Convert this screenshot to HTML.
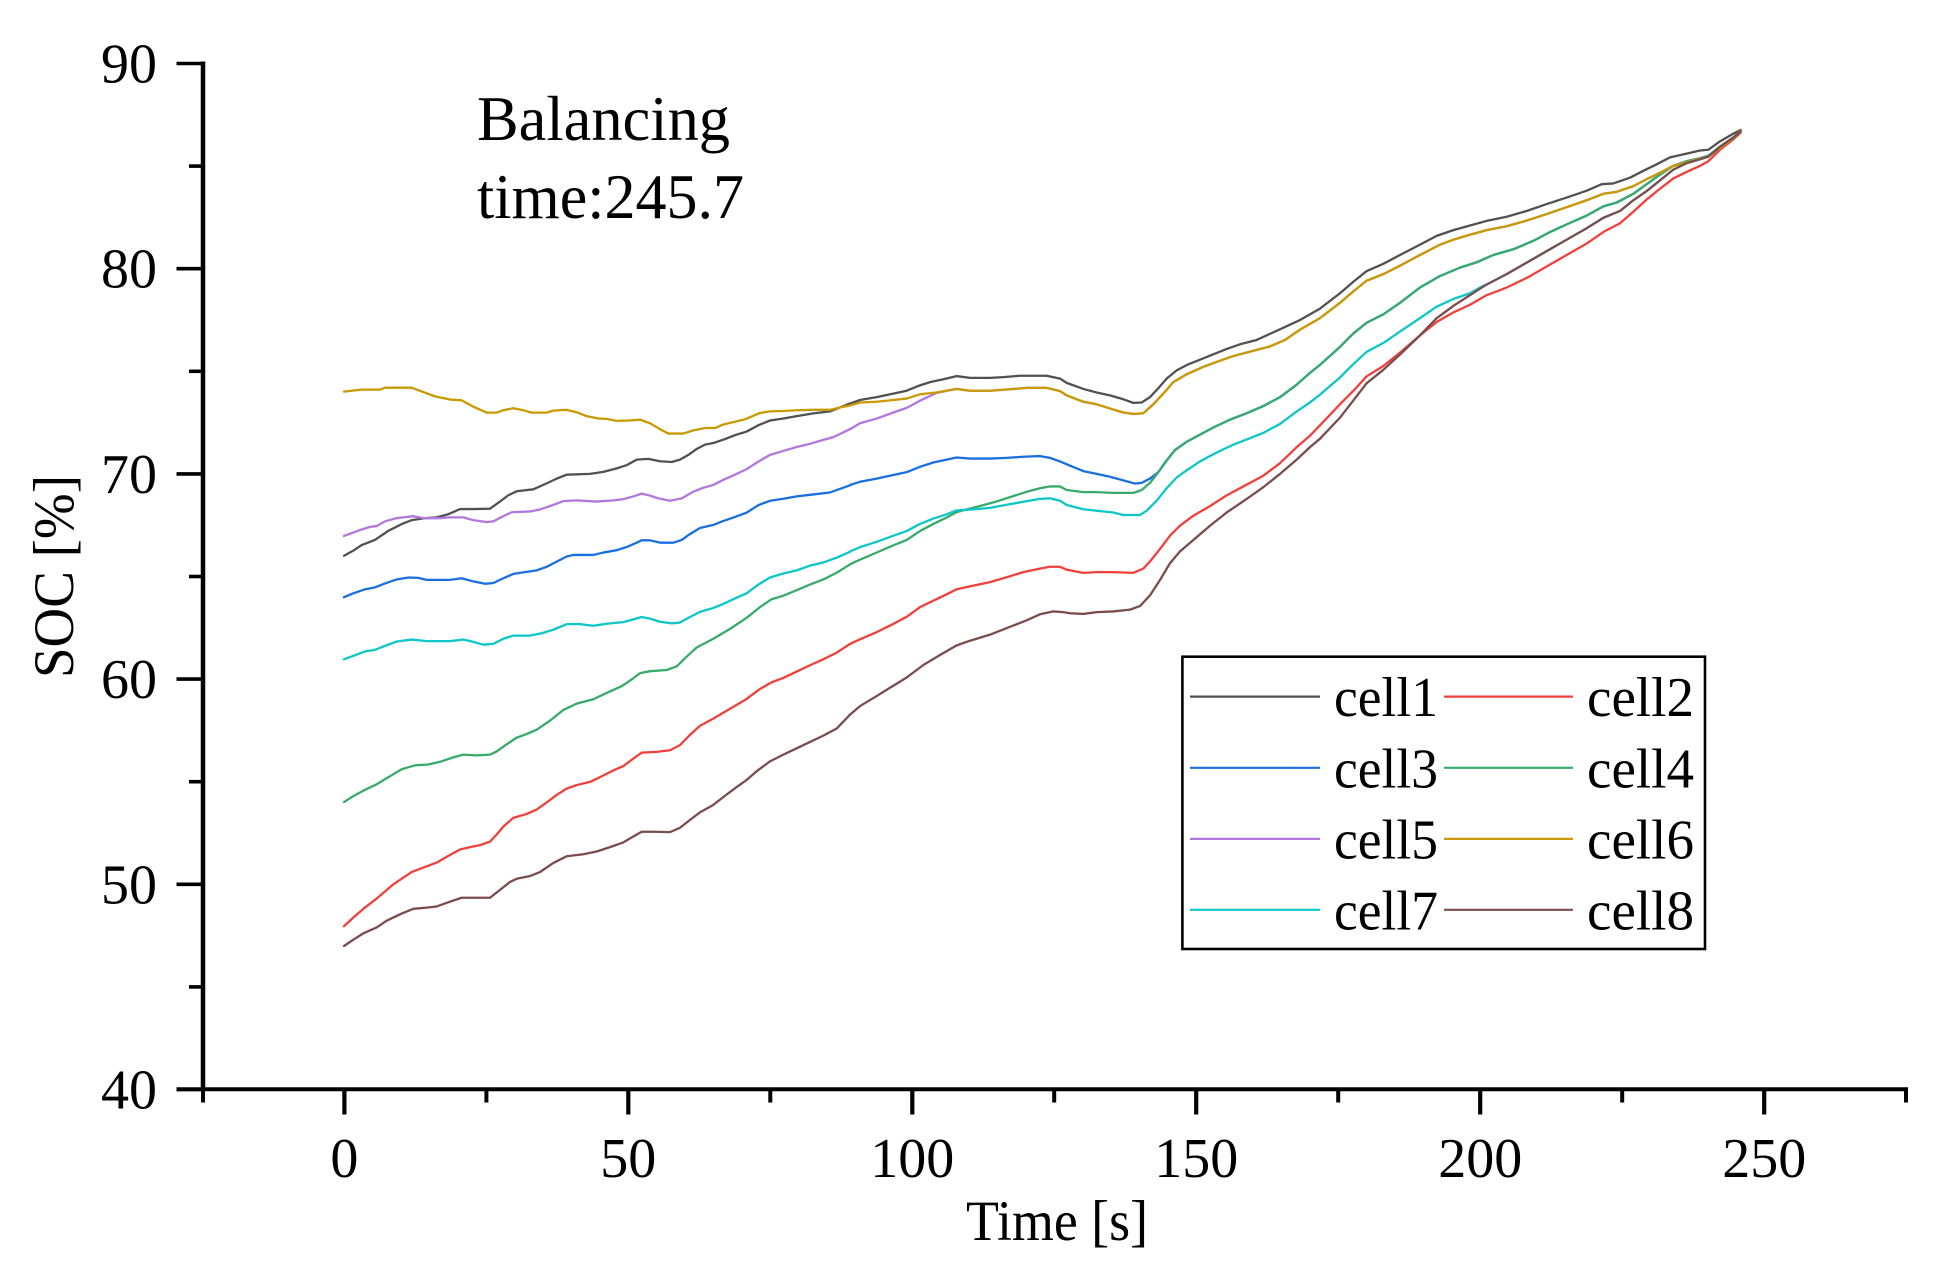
<!DOCTYPE html>
<html><head><meta charset="utf-8"><style>
html,body{margin:0;padding:0;background:#fff;}
svg{display:block;}
text{font-family:"Liberation Serif","Times New Roman",serif;fill:#000;}
</style></head><body>
<svg width="1941" height="1279" viewBox="0 0 1941 1279" xmlns="http://www.w3.org/2000/svg">
<rect width="1941" height="1279" fill="#fff"/>

<!-- Axes -->
<g stroke="#000" stroke-linecap="butt">
  <line x1="203" y1="61.5" x2="203" y2="1091" stroke-width="4.5"/>
  <line x1="176.5" y1="1089.3" x2="1908" y2="1089.3" stroke-width="4"/>
  <g stroke-width="3.6">
    <line x1="176.5" y1="63.5" x2="203" y2="63.5"/>
    <line x1="176.5" y1="268.7" x2="203" y2="268.7"/>
    <line x1="176.5" y1="473.9" x2="203" y2="473.9"/>
    <line x1="176.5" y1="679.1" x2="203" y2="679.1"/>
    <line x1="176.5" y1="884.3" x2="203" y2="884.3"/>
    <line x1="176.5" y1="1089.5" x2="203" y2="1089.5"/>
  </g>
  <g stroke-width="3.6">
    <line x1="189" y1="166.1" x2="203" y2="166.1"/>
    <line x1="189" y1="371.3" x2="203" y2="371.3"/>
    <line x1="189" y1="576.5" x2="203" y2="576.5"/>
    <line x1="189" y1="781.7" x2="203" y2="781.7"/>
    <line x1="189" y1="986.9" x2="203" y2="986.9"/>
  </g>
  <g stroke-width="4.2">
    <line x1="344.4" y1="1089" x2="344.4" y2="1114.5"/>
    <line x1="628.3" y1="1089" x2="628.3" y2="1114.5"/>
    <line x1="912.3" y1="1089" x2="912.3" y2="1114.5"/>
    <line x1="1196.2" y1="1089" x2="1196.2" y2="1114.5"/>
    <line x1="1480.2" y1="1089" x2="1480.2" y2="1114.5"/>
    <line x1="1764.2" y1="1089" x2="1764.2" y2="1114.5"/>
  </g>
  <g stroke-width="4">
    <line x1="203" y1="1089" x2="203" y2="1102.5"/>
    <line x1="486.4" y1="1089" x2="486.4" y2="1102.5"/>
    <line x1="770.3" y1="1089" x2="770.3" y2="1102.5"/>
    <line x1="1054.2" y1="1089" x2="1054.2" y2="1102.5"/>
    <line x1="1338.2" y1="1089" x2="1338.2" y2="1102.5"/>
    <line x1="1622.2" y1="1089" x2="1622.2" y2="1102.5"/>
    <line x1="1906" y1="1089" x2="1906" y2="1102.5"/>
  </g>
</g>

<!-- Tick labels -->
<g font-size="56" text-anchor="end">
  <text x="157" y="82.5">90</text>
  <text x="157" y="287.7">80</text>
  <text x="157" y="492.9">70</text>
  <text x="157" y="698.1">60</text>
  <text x="157" y="903.3">50</text>
  <text x="157" y="1108.5">40</text>
</g>
<g font-size="56" text-anchor="middle">
  <text x="344.4" y="1177">0</text>
  <text x="628.3" y="1177">50</text>
  <text x="912.3" y="1177">100</text>
  <text x="1196.2" y="1177">150</text>
  <text x="1480.2" y="1177">200</text>
  <text x="1764.2" y="1177">250</text>
</g>

<!-- Axis titles -->
<text x="966" y="1240" font-size="57" textLength="182" lengthAdjust="spacingAndGlyphs">Time [s]</text>
<text transform="translate(73,576.5) rotate(-90)" x="0" y="0" font-size="57" text-anchor="middle" textLength="203" lengthAdjust="spacingAndGlyphs">SOC [%]</text>

<!-- Annotation -->
<text x="477" y="140" font-size="63" textLength="253" lengthAdjust="spacingAndGlyphs">Balancing</text>
<text x="477" y="218" font-size="63" textLength="267" lengthAdjust="spacingAndGlyphs">time:245.7</text>

<!-- Data -->
<g fill="none" stroke-width="2.3" stroke-linejoin="round" stroke-linecap="round">
<g transform="translate(330,360) scale(0.333333,0.39541)">
  <polyline vector-effect="non-scaling-stroke" stroke="#515151" points="42,495 70,482 95,468 135,455 175,432 215,415 245,405 285,400 320,398 355,390 390,377 430,377 480,376 510,358 535,342 560,332 610,327 650,312 680,300 710,290 780,288 820,283 860,274 890,266 920,252 955,250 990,256 1025,258 1050,252 1075,240 1100,225 1125,214 1150,210 1185,200 1215,190 1250,181 1285,165 1320,153 1360,148 1400,142 1450,135 1500,130 1530,120 1560,110"/>
  <polyline vector-effect="non-scaling-stroke" stroke="#f0403c" points="42,1432 70,1410 100,1388 140,1362 190,1326 245,1295 285,1282 320,1271 355,1254 390,1238 420,1232 450,1227 480,1218 500,1200 520,1180 550,1158 590,1148 620,1137 650,1119 680,1100 710,1084 740,1075 780,1067 810,1055 845,1040 880,1027 910,1008 935,993 980,991 1020,987 1050,974 1080,948 1110,925 1150,907 1200,882 1245,860 1290,832 1325,815 1360,804 1400,788 1440,772 1480,757 1520,740 1560,718"/>
  <polyline vector-effect="non-scaling-stroke" stroke="#1a6fdf" points="42,600 70,590 105,580 135,575 165,565 200,555 235,550 265,551 290,556 360,556 395,552 430,560 465,566 490,564 520,552 550,541 580,537 620,532 650,523 680,510 710,497 730,493 790,493 820,487 860,481 890,473 920,462 935,456 960,456 990,462 1030,462 1055,455 1080,440 1110,425 1150,417 1180,407 1215,397 1250,386 1285,367 1320,356 1360,351 1400,345 1450,340 1500,335 1560,317"/>
  <polyline vector-effect="non-scaling-stroke" stroke="#37ab6b" points="42,1118 70,1103 105,1087 140,1073 185,1050 215,1035 255,1025 295,1023 335,1015 370,1005 400,998 440,1000 480,998 500,990 530,972 560,955 590,946 620,935 660,912 700,885 740,869 790,858 830,842 875,825 905,808 930,792 960,787 1010,784 1040,775 1070,750 1100,727 1150,705 1200,680 1250,652 1290,625 1325,605 1360,596 1400,582 1440,568 1480,555 1520,538 1560,517"/>
  <polyline vector-effect="non-scaling-stroke" stroke="#b177de" points="42,445 90,430 120,422 140,420 165,408 200,400 250,395 280,400 330,400 360,398 400,398 430,405 470,410 490,408 520,395 545,385 600,383 630,378 665,368 700,357 740,355 800,358 850,355 880,352 910,345 935,338 960,343 985,350 1020,356 1055,350 1090,333 1120,323 1150,316 1180,303 1215,290 1250,276 1285,257 1320,240 1360,230 1400,220 1440,212 1480,202 1510,195 1560,175"/>
  <polyline vector-effect="non-scaling-stroke" stroke="#c99a00" points="42,80 95,75 150,75 165,70 245,70 270,78 315,92 360,100 395,102 430,118 470,133 500,133 520,127 550,122 575,126 605,133 650,133 670,128 710,126 740,132 770,142 805,148 830,149 860,154 895,153 930,151 960,160 990,175 1015,186 1060,186 1090,178 1125,172 1155,172 1180,163 1210,157 1245,150 1290,134 1320,130 1360,129 1400,127 1450,126 1500,126 1530,120 1560,115"/>
  <polyline vector-effect="non-scaling-stroke" stroke="#0cc6c8" points="42,757 70,748 105,737 135,733 165,723 200,712 245,707 290,711 360,711 400,707 430,713 460,720 490,718 520,705 550,697 600,697 635,691 670,682 710,668 750,668 790,672 830,667 880,663 910,656 935,650 960,654 990,662 1025,666 1050,664 1080,650 1110,637 1150,627 1180,617 1215,603 1250,590 1285,568 1320,550 1360,540 1400,532 1440,520 1480,512 1520,500 1560,485"/>
  <polyline vector-effect="non-scaling-stroke" stroke="#7b4c4c" points="42,1482 70,1466 100,1450 140,1435 170,1418 215,1400 250,1388 290,1385 320,1382 360,1370 395,1360 480,1360 510,1340 540,1320 560,1312 600,1305 630,1295 670,1272 710,1255 760,1250 800,1243 840,1232 880,1220 910,1205 935,1193 970,1193 1020,1194 1050,1183 1080,1163 1110,1144 1150,1125 1185,1102 1220,1080 1250,1062 1280,1040 1320,1015 1360,998 1400,982 1440,966 1480,950 1520,932 1560,897"/>
</g>
<g transform="translate(830,340) scale(0.333333,0.357143)">
  <polyline vector-effect="non-scaling-stroke" stroke="#515151" points="60,178 90,168 140,160 190,150 230,142 270,127 300,118 340,110 380,101 420,106 480,106 520,104 570,100 650,100 690,108 710,120 760,137 800,147 840,155 880,166 910,176 935,175 960,160 985,135 1010,108 1040,85 1075,68 1110,55 1150,40 1190,25 1230,12 1280,0"/>
  <polyline vector-effect="non-scaling-stroke" stroke="#f0403c" points="60,851 90,838 140,818 190,795 230,775 270,748 310,730 350,712 380,698 420,690 480,678 520,667 580,650 630,640 660,635 690,635 710,643 760,652 800,650 850,650 910,652 940,640 960,620 990,585 1020,548 1050,520 1090,492 1140,465 1190,435 1240,410 1300,380 1350,345 1400,300 1440,268"/>
  <polyline vector-effect="non-scaling-stroke" stroke="#1a6fdf" points="60,406 90,397 140,388 190,378 230,370 270,355 310,343 350,335 380,329 420,332 480,332 530,330 580,327 630,325 660,330 690,340 720,352 760,367 800,375 840,383 880,393 915,402 935,400 960,388 985,370 1005,343 1035,308 1070,285 1110,265 1150,245 1200,223 1250,205 1300,185 1350,160 1400,125 1440,92"/>
  <polyline vector-effect="non-scaling-stroke" stroke="#37ab6b" points="60,628 90,615 140,595 190,575 230,560 270,535 310,515 350,497 380,482 420,472 470,460 500,452 540,440 590,425 630,415 660,410 690,410 710,420 760,426 800,426 850,428 910,428 935,420 960,400 985,370 1010,338 1035,308 1070,285 1110,265 1150,245 1200,223 1250,205 1300,185 1350,160 1400,125 1440,92"/>
  <polyline vector-effect="non-scaling-stroke" stroke="#b177de" points="60,250 90,233 140,220 190,203 230,190 270,170 320,148 380,137 420,142 480,142 540,138 590,134 650,134 690,143 710,155 760,173 800,180 840,192 880,203 910,207 940,205 970,180 1000,150 1030,118 1070,96 1120,75 1170,58 1210,45 1270,30 1320,18 1365,0"/>
  <polyline vector-effect="non-scaling-stroke" stroke="#c99a00" points="60,183 90,175 140,173 230,164 270,152 320,147 380,137 420,142 480,142 540,138 590,134 650,134 690,143 710,155 760,173 800,180 840,192 880,203 910,207 940,205 970,180 1000,150 1030,118 1070,96 1120,75 1170,58 1210,45 1270,30 1320,18 1365,0"/>
  <polyline vector-effect="non-scaling-stroke" stroke="#0cc6c8" points="60,592 90,580 140,565 190,548 230,535 270,515 310,500 350,488 380,477 420,475 480,470 520,463 580,453 630,445 660,443 690,450 710,462 760,474 800,478 850,483 880,490 930,490 950,478 980,450 1010,415 1040,385 1070,365 1110,340 1160,315 1210,293 1260,275 1300,260 1350,235 1400,200 1440,175"/>
  <polyline vector-effect="non-scaling-stroke" stroke="#7b4c4c" points="60,1049 90,1025 140,997 190,968 230,945 280,910 330,882 380,855 420,842 480,825 540,803 590,785 630,768 670,760 700,762 720,765 760,767 800,762 850,760 900,755 930,745 960,715 990,672 1020,625 1050,592 1090,560 1140,520 1190,483 1250,445 1300,412 1350,375 1400,335 1440,300"/>
</g>
<g transform="translate(1300,100) scale(0.333333,0.382702)">
  <polyline vector-effect="non-scaling-stroke" stroke="#515151" points="-130,627 0,575 60,545 120,505 160,475 200,447 250,428 300,405 360,378 410,355 460,340 510,328 560,316 620,305 680,290 740,272 800,255 860,237 905,220 940,218 990,203 1030,185 1070,168 1110,150 1160,140 1200,132 1225,130 1260,108 1300,88 1322,78"/>
  <polyline vector-effect="non-scaling-stroke" stroke="#f0403c" points="30,877 60,850 120,795 160,760 200,722 250,695 300,660 360,615 410,580 460,555 510,535 560,510 620,490 680,465 740,435 800,405 860,375 910,345 960,322 1000,292 1040,260 1080,232 1120,205 1160,188 1200,172 1225,160 1260,130 1300,103 1322,85"/>
  <polyline vector-effect="non-scaling-stroke" stroke="#1a6fdf" points="30,713 60,692 120,645 160,610 200,582 250,560 300,530 360,490 420,460 480,438 530,424 580,405 640,390 700,368 750,345 800,325 860,302 910,278 950,268 1000,245 1040,220 1080,195 1120,172 1160,160 1200,152 1225,146 1260,122 1300,98 1322,82"/>
  <polyline vector-effect="non-scaling-stroke" stroke="#37ab6b" points="30,713 60,692 120,645 160,610 200,582 250,560 300,530 360,490 420,460 480,438 530,424 580,405 640,390 700,368 750,345 800,325 860,302 910,278 950,268 1000,245 1040,220 1080,195 1120,172 1160,160 1200,152 1225,146 1260,122 1300,98 1322,82"/>
  <polyline vector-effect="non-scaling-stroke" stroke="#b177de" points="-45,627 0,600 60,570 120,530 160,500 200,472 250,455 300,433 360,405 420,378 460,365 510,352 560,340 620,330 680,315 740,298 800,280 860,262 910,245 950,240 1000,225 1040,207 1080,190 1120,172 1160,163 1200,153 1225,148 1260,125 1300,100 1322,80"/>
  <polyline vector-effect="non-scaling-stroke" stroke="#c99a00" points="-45,627 0,600 60,570 120,530 160,500 200,472 250,455 300,433 360,405 420,378 460,365 510,352 560,340 620,330 680,315 740,298 800,280 860,262 910,245 950,240 1000,225 1040,207 1080,190 1120,172 1160,163 1200,153 1225,148 1260,125 1300,100 1322,80"/>
  <polyline vector-effect="non-scaling-stroke" stroke="#0cc6c8" points="30,790 60,770 120,725 160,690 200,658 250,635 300,605 360,570 410,540 460,520 510,505 540,490 560,482 620,455 680,425 740,395 800,365 860,335 910,308 960,290 1000,262 1040,238 1080,210 1120,182 1160,165 1200,155 1225,148 1260,122 1300,98 1322,82"/>
  <polyline vector-effect="non-scaling-stroke" stroke="#7b4c4c" points="30,907 60,885 120,830 160,785 200,740 250,705 300,665 360,615 410,570 460,538 510,510 560,482 620,455 680,425 740,395 800,365 860,335 910,308 960,290 1000,262 1040,238 1080,210 1120,182 1160,165 1200,155 1225,148 1260,122 1300,98 1322,82"/>
</g>
</g>

<!-- Legend -->
<rect x="1182.4" y="656.7" width="522.6" height="292.3" fill="#fff" stroke="#000" stroke-width="2.6"/>
<g stroke-width="2.2">
  <line x1="1190" y1="696.6" x2="1320" y2="696.6" stroke="#515151"/>
  <line x1="1444" y1="696.6" x2="1573" y2="696.6" stroke="#f0403c"/>
  <line x1="1190" y1="767.8" x2="1320" y2="767.8" stroke="#1a6fdf"/>
  <line x1="1444" y1="767.8" x2="1573" y2="767.8" stroke="#37ab6b"/>
  <line x1="1190" y1="838.9" x2="1320" y2="838.9" stroke="#b177de"/>
  <line x1="1444" y1="838.9" x2="1573" y2="838.9" stroke="#c99a00"/>
  <line x1="1190" y1="909.8" x2="1320" y2="909.8" stroke="#0cc6c8"/>
  <line x1="1444" y1="909.8" x2="1573" y2="909.8" stroke="#7b4c4c"/>
</g>
<g font-size="56">
  <text x="1334" y="716.2" textLength="104" lengthAdjust="spacingAndGlyphs">cell1</text>
  <text x="1587" y="716.2" textLength="107" lengthAdjust="spacingAndGlyphs">cell2</text>
  <text x="1334" y="787.4" textLength="104" lengthAdjust="spacingAndGlyphs">cell3</text>
  <text x="1587" y="787.4" textLength="107" lengthAdjust="spacingAndGlyphs">cell4</text>
  <text x="1334" y="858.5" textLength="104" lengthAdjust="spacingAndGlyphs">cell5</text>
  <text x="1587" y="858.5" textLength="107" lengthAdjust="spacingAndGlyphs">cell6</text>
  <text x="1334" y="929.4" textLength="104" lengthAdjust="spacingAndGlyphs">cell7</text>
  <text x="1587" y="929.4" textLength="107" lengthAdjust="spacingAndGlyphs">cell8</text>
</g>
</svg>
</body></html>
